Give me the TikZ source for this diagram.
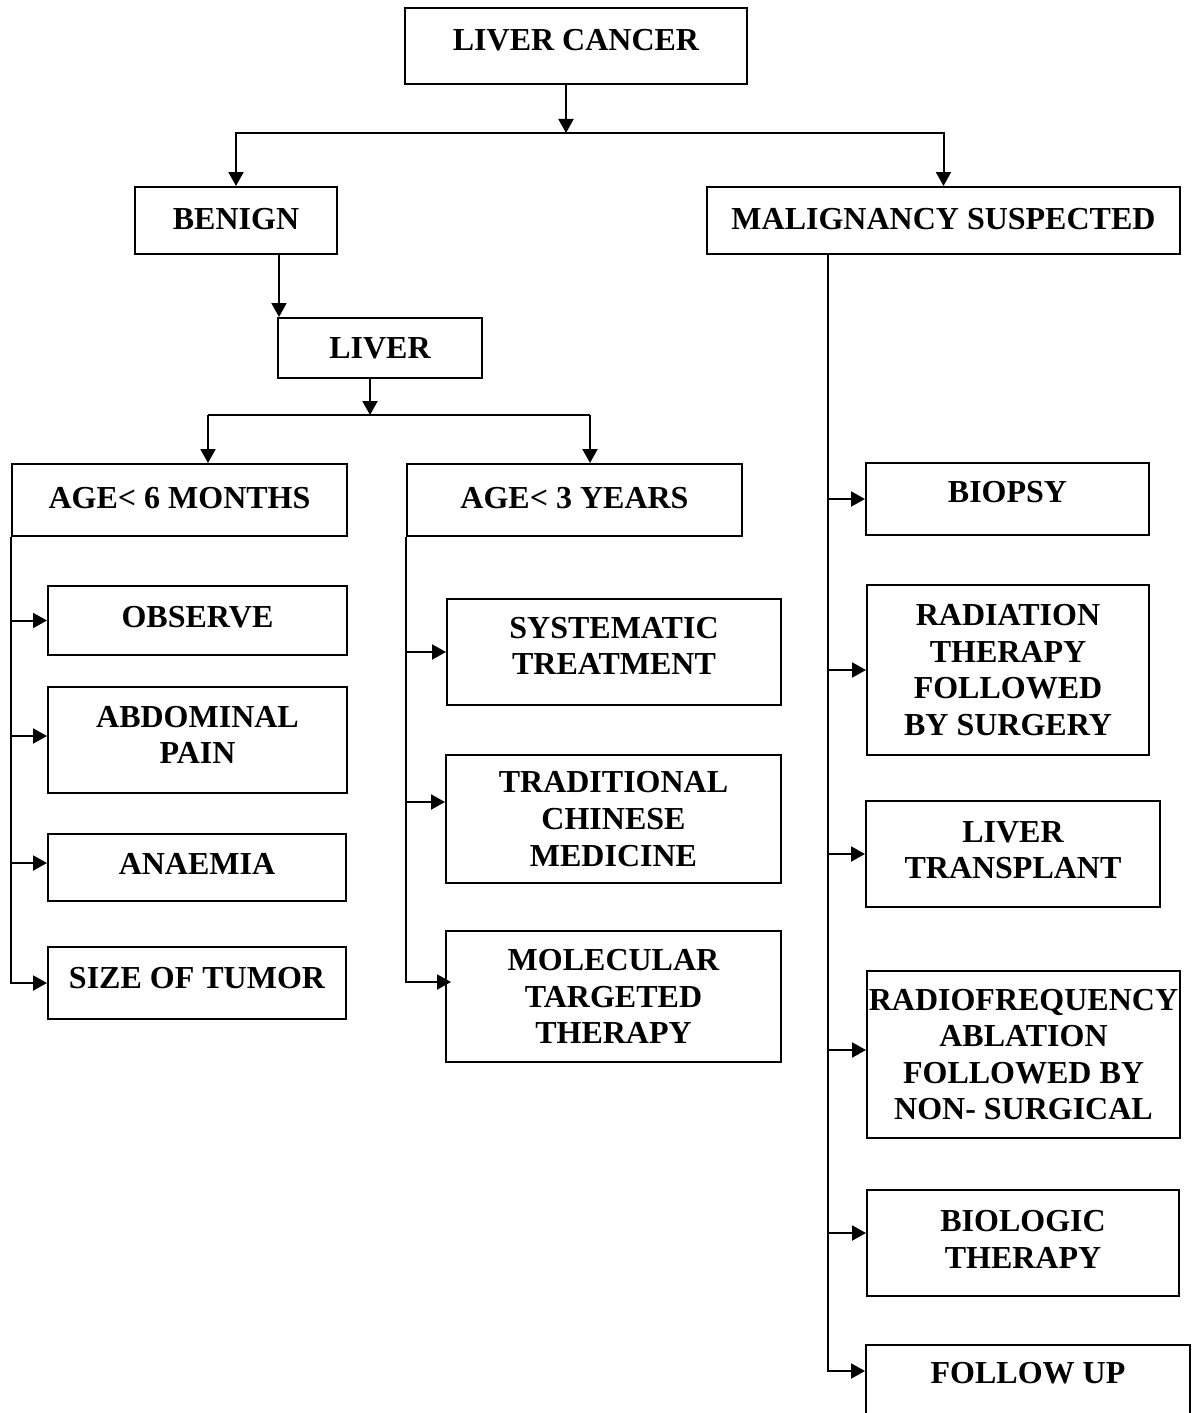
\documentclass[tikz,border=0pt]{standalone}
\usepackage{fontspec}
\setmainfont{Liberation Serif}
\usepackage{tikz}
\usetikzlibrary{arrows.meta}

\begin{document}
\begin{tikzpicture}[x=0.5pt,y=-0.5pt,
  box/.style={rectangle,draw=black,line width=1pt,inner sep=0pt,align=center,
    font=\bfseries\fontsize{16}{18.3}\selectfont},
  wire/.style={draw=black,line width=1pt},
  arr/.style={wire,-{Triangle[length=7pt,width=7.5pt]}}]
\useasboundingbox (0,0) rectangle (1195,1413);
% Top levels
\node[box,minimum width=171pt,minimum height=38pt,text depth=6pt] (cancer) at (576,46) {LIVER CANCER};
\node[box,minimum width=101pt,minimum height=33.5pt,text depth=2pt] (benign) at (236,220.5) {BENIGN};
\node[box,minimum width=236.5pt,minimum height=33.5pt,text depth=2pt] (malig) at (943.5,220.5) {MALIGNANCY SUSPECTED};
\node[box,minimum width=102pt,minimum height=30pt] (liver) at (380,348) {LIVER};
\node[box,minimum width=167.5pt,minimum height=36pt,text depth=2.5pt] (age6) at (179.5,500) {AGE< 6 MONTHS};
\node[box,minimum width=167.5pt,minimum height=36pt,text depth=2.5pt] (age3) at (574.5,500) {AGE< 3 YEARS};
% Under AGE< 6 MONTHS
\node[box,minimum width=149.5pt,minimum height=34.5pt,text depth=4pt] (observe) at (197.5,620.5) {OBSERVE};
\node[box,minimum width=149.5pt,minimum height=53pt,text depth=5pt] (abdominal) at (197.5,740) {ABDOMINAL\\PAIN};
\node[box,minimum width=149pt,minimum height=33.5pt,text depth=4pt] (anaemia) at (197,867.5) {ANAEMIA};
\node[box,minimum width=149pt,minimum height=36pt,text depth=5.5pt] (tumor) at (197,983) {SIZE OF TUMOR};
% Under AGE< 3 YEARS
\node[box,minimum width=167pt,minimum height=53pt,text depth=6pt] (systematic) at (614,652) {SYSTEMATIC\\TREATMENT};
\node[box,minimum width=167.5pt,minimum height=64pt] (chinese) at (613.5,819) {TRADITIONAL\\CHINESE\\MEDICINE};
\node[box,minimum width=167.5pt,minimum height=65.5pt] (molecular) at (613.5,996.5) {MOLECULAR\\TARGETED\\THERAPY};
% Under MALIGNANCY SUSPECTED
\node[box,minimum width=141.5pt,minimum height=36pt,text depth=7pt] (biopsy) at (1007.5,499) {BIOPSY};
\node[box,minimum width=141pt,minimum height=85pt] (radiation) at (1008,670) {RADIATION\\THERAPY\\FOLLOWED\\BY SURGERY};
\node[box,minimum width=147pt,minimum height=53pt,text depth=4pt] (transplant) at (1013,854) {LIVER\\TRANSPLANT};
\node[box,minimum width=156.5pt,minimum height=83.5pt] (radiofreq) at (1023.5,1054.5) {RADIOFREQUENCY\\ABLATION\\FOLLOWED BY\\NON- SURGICAL};
\node[box,minimum width=156pt,minimum height=53pt,text depth=3.5pt] (biologic) at (1023,1243) {BIOLOGIC\\THERAPY};
\node[box,minimum width=162pt,minimum height=36pt,text depth=8pt] (followup) at (1028,1381) {FOLLOW UP};
% Arrow ends
\coordinate (liverin) at ([xshift=1pt]liver.north west);
\coordinate (abdin) at ([yshift=2pt]abdominal.west);
\coordinate (anain) at ([yshift=2.25pt]anaemia.west);
\coordinate (chinin) at ([yshift=8.5pt]chinese.west);
\coordinate (molin) at ([shift={(3pt,7.25pt)}]molecular.west);
\coordinate (radioin) at ([yshift=2.25pt]radiofreq.west);
\coordinate (bioin) at ([yshift=5pt]biologic.west);
\coordinate (followin) at ([yshift=5pt]followup.west);
% Wires
\coordinate (split) at (566,133);
\draw[arr] (cancer.south -| split) -- (split);
\draw[arr] (split) -| (benign.north);
\draw[arr] (split) -| (malig.north);
\draw[arr] (benign.south -| liverin) -- (liverin);
\coordinate (lsplit) at (370,415);
\coordinate (l6) at (208,415);
\coordinate (l3) at (590,415);
\draw[arr] (liver.south -| lsplit) -- (lsplit);
\draw[wire] (l6) -- (l3);
\draw[arr] (l6) -- (l6 |- age6.north);
\draw[arr] (l3) -- (l3 |- age3.north);
% Left trunk
\draw[arr] (age6.south west) |- (tumor.west);
\draw[arr] (age6.south west |- observe.west) -- (observe.west);
\draw[arr] (age6.south west |- abdin) -- (abdin);
\draw[arr] (age6.south west |- anain) -- (anain);
% Middle trunk
\draw[arr] (age3.south west) |- (molin);
\draw[arr] (age3.south west |- systematic.west) -- (systematic.west);
\draw[arr] (age3.south west |- chinin) -- (chinin);
% Right trunk
\coordinate (mtrunk) at ([xshift=61pt]malig.south west);
\draw[arr] (mtrunk) |- (followin);
\draw[arr] (mtrunk |- biopsy.west) -- (biopsy.west);
\draw[arr] (mtrunk |- radiation.west) -- (radiation.west);
\draw[arr] (mtrunk |- transplant.west) -- (transplant.west);
\draw[arr] (mtrunk |- radioin) -- (radioin);
\draw[arr] (mtrunk |- bioin) -- (bioin);
\end{tikzpicture}
\end{document}
